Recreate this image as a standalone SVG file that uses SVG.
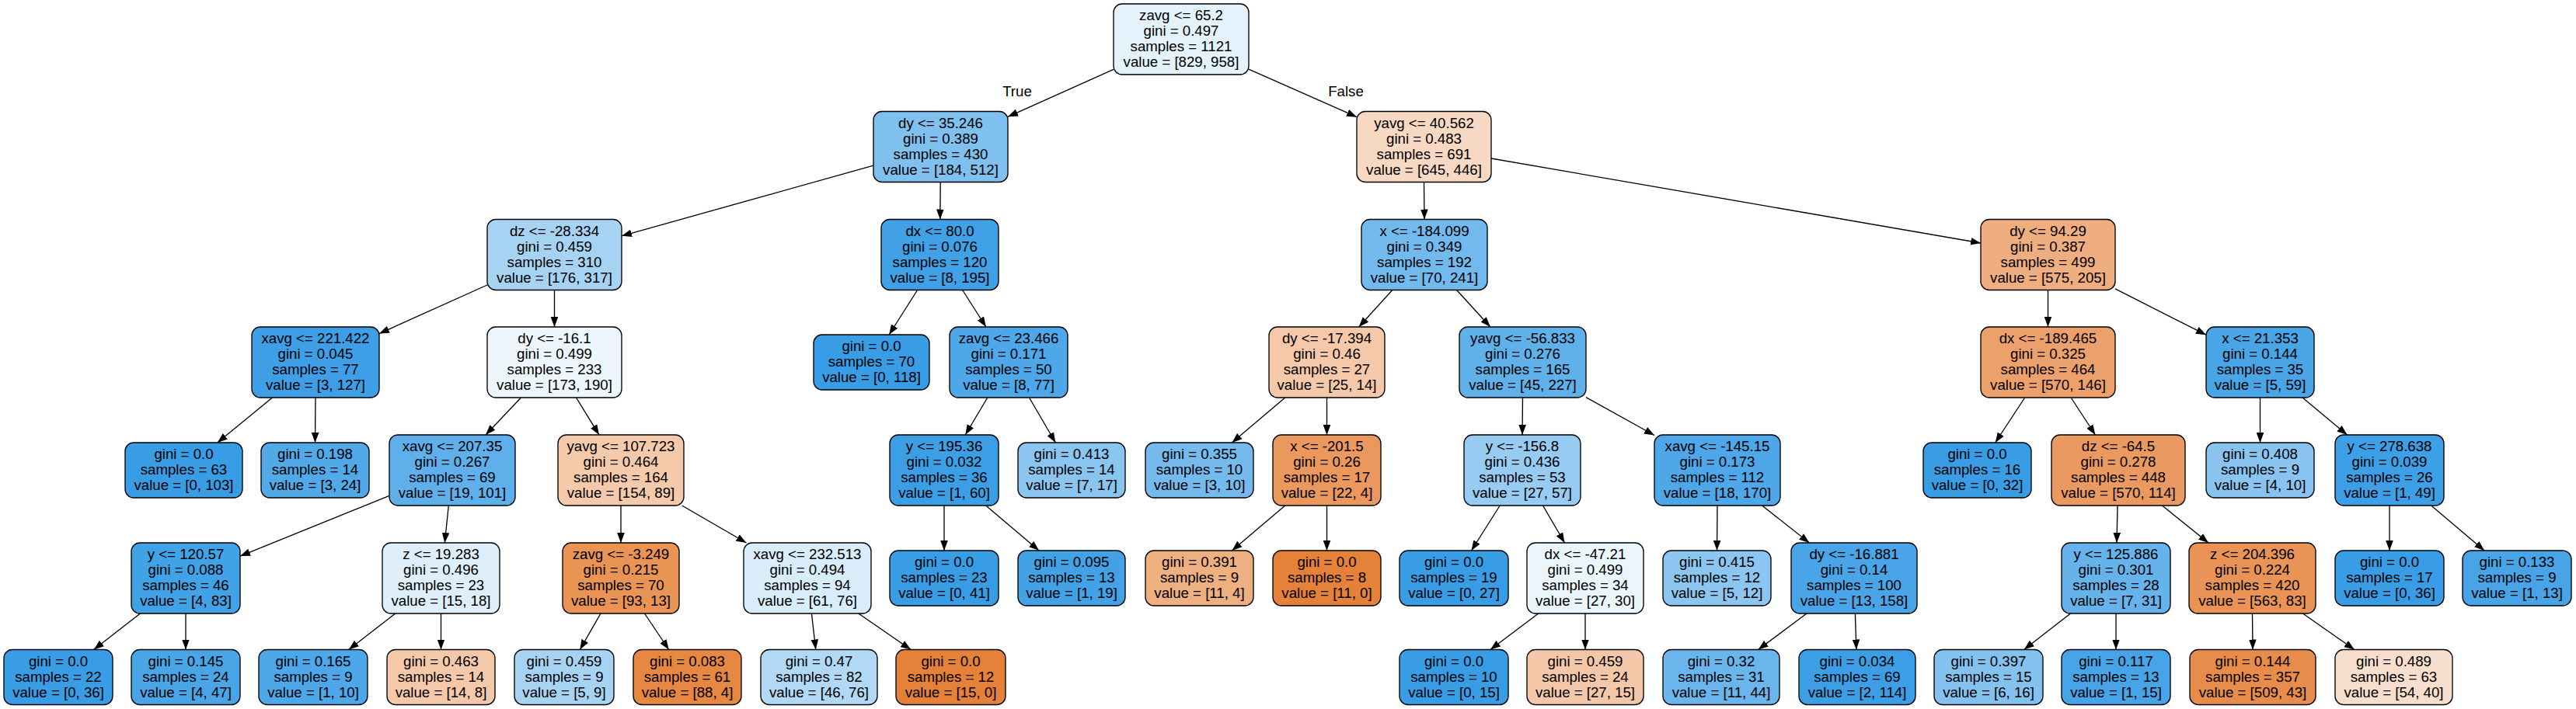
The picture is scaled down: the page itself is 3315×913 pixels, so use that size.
<svg xmlns="http://www.w3.org/2000/svg" width="3315" height="913" viewBox="0 0 3315 913">
<defs>
<style>
.n rect{stroke:#000;stroke-width:1.33}
text{font-family:"Liberation Sans",Arial,Helvetica,sans-serif;font-size:18.67px;text-anchor:middle;fill:#000}
#edges line{stroke:#000;stroke-width:1.33;fill:none;marker-end:url(#ah)}
</style>
<marker id="ah" markerUnits="userSpaceOnUse" markerWidth="13" markerHeight="10" viewBox="0 0 12.5 9.3" refX="12.5" refY="4.65" orient="auto"><path d="M0,0 L12.5,4.65 L0,9.3 Z" fill="#000"/></marker>
</defs>
<rect width="3315" height="913" fill="#fff"/>
<g id="edges">
<line x1="1433" y1="89.4" x2="1297" y2="150.3"/>
<line x1="1607" y1="89.1" x2="1746" y2="150.7"/>
<line x1="1124" y1="213.2" x2="800" y2="303.8"/>
<line x1="1210.2" y1="234.5" x2="1209.8" y2="282.5"/>
<line x1="627" y1="367" x2="488" y2="429.6"/>
<line x1="713.5" y1="373.5" x2="713.5" y2="421"/>
<line x1="350.5" y1="512" x2="279.8" y2="570"/>
<line x1="406" y1="512" x2="405.5" y2="570"/>
<line x1="670.5" y1="512" x2="625" y2="560"/>
<line x1="741.5" y1="512" x2="771" y2="560"/>
<line x1="501" y1="638.3" x2="309" y2="716.1"/>
<line x1="577.3" y1="651" x2="572.3" y2="699"/>
<line x1="180.5" y1="790" x2="120.7" y2="836.5"/>
<line x1="239" y1="790" x2="239" y2="836.5"/>
<line x1="508.8" y1="790" x2="448.8" y2="836.5"/>
<line x1="567.5" y1="790" x2="567.5" y2="836.5"/>
<line x1="799" y1="651" x2="799" y2="699"/>
<line x1="877.6" y1="651" x2="960.5" y2="699"/>
<line x1="773" y1="790" x2="746.3" y2="836.5"/>
<line x1="829.5" y1="790" x2="860.7" y2="836.5"/>
<line x1="1044.4" y1="790" x2="1049.8" y2="836.5"/>
<line x1="1104.8" y1="790" x2="1172.1" y2="836.5"/>
<line x1="1180.6" y1="373.5" x2="1144.1" y2="431"/>
<line x1="1238.6" y1="373.5" x2="1268.9" y2="421"/>
<line x1="1270.8" y1="512" x2="1242.2" y2="560"/>
<line x1="1324.5" y1="512" x2="1358.3" y2="570"/>
<line x1="1215" y1="651" x2="1215" y2="709"/>
<line x1="1268.7" y1="651" x2="1337.1" y2="709"/>
<line x1="1832.5" y1="234.5" x2="1833" y2="282.5"/>
<line x1="1919" y1="204" x2="2549" y2="313"/>
<line x1="1791.8" y1="373.5" x2="1748.7" y2="421"/>
<line x1="1874.6" y1="373.5" x2="1917.9" y2="421"/>
<line x1="1653.8" y1="512" x2="1585.4" y2="570"/>
<line x1="1707.5" y1="512" x2="1707.5" y2="560"/>
<line x1="1653.8" y1="651" x2="1585.4" y2="709"/>
<line x1="1707.5" y1="651" x2="1707.5" y2="709"/>
<line x1="1959.5" y1="512" x2="1959" y2="560"/>
<line x1="2041" y1="511.7" x2="2129" y2="560.5"/>
<line x1="1930.2" y1="651" x2="1893.5" y2="709"/>
<line x1="1985.5" y1="651" x2="2013.5" y2="699"/>
<line x1="1979.7" y1="790" x2="1918" y2="836.5"/>
<line x1="2040" y1="790" x2="2040" y2="836.5"/>
<line x1="2210" y1="651" x2="2209.5" y2="709"/>
<line x1="2267.6" y1="651" x2="2328.4" y2="699"/>
<line x1="2325" y1="790" x2="2262.6" y2="836.5"/>
<line x1="2387.4" y1="790" x2="2388.9" y2="836.5"/>
<line x1="2635.5" y1="373.5" x2="2635.5" y2="421"/>
<line x1="2722" y1="371.9" x2="2839" y2="431.2"/>
<line x1="2605.7" y1="512" x2="2567.7" y2="570"/>
<line x1="2665.1" y1="512" x2="2696.4" y2="560"/>
<line x1="2725" y1="651" x2="2724" y2="699"/>
<line x1="2782.5" y1="651" x2="2842" y2="699"/>
<line x1="2664.5" y1="790" x2="2604.7" y2="836.5"/>
<line x1="2723" y1="790" x2="2723" y2="836.5"/>
<line x1="2898.5" y1="790" x2="2899" y2="836.5"/>
<line x1="2963.5" y1="790" x2="3029.8" y2="836.5"/>
<line x1="2908.5" y1="512" x2="2908.5" y2="570"/>
<line x1="2963" y1="512" x2="3020.5" y2="560"/>
<line x1="3075" y1="651" x2="3075" y2="709"/>
<line x1="3128.7" y1="651" x2="3197.1" y2="709"/>
<text x="1309" y="124">True</text>
<text x="1732" y="124">False</text>
</g>
<g id="n0" class="n"><rect x="1433" y="5" width="174" height="91" rx="11" fill="#e4f2fb"/><text x="1520" y="26"><tspan x="1520">zavg &lt;= 65.2</tspan><tspan x="1520" dy="20">gini = 0.497</tspan><tspan x="1520" dy="20">samples = 1121</tspan><tspan x="1520" dy="20">value = [829, 958]</tspan></text></g>
<g id="n1" class="n"><rect x="1124" y="143.5" width="173" height="91" rx="11" fill="#80c0ee"/><text x="1210.5" y="164.5"><tspan x="1210.5">dy &lt;= 35.246</tspan><tspan x="1210.5" dy="20">gini = 0.389</tspan><tspan x="1210.5" dy="20">samples = 430</tspan><tspan x="1210.5" dy="20">value = [184, 512]</tspan></text></g>
<g id="n29" class="n"><rect x="1746" y="143.5" width="173" height="91" rx="11" fill="#f7d8c2"/><text x="1832.5" y="164.5"><tspan x="1832.5">yavg &lt;= 40.562</tspan><tspan x="1832.5" dy="20">gini = 0.483</tspan><tspan x="1832.5" dy="20">samples = 691</tspan><tspan x="1832.5" dy="20">value = [645, 446]</tspan></text></g>
<g id="n2" class="n"><rect x="627" y="282.5" width="173" height="91" rx="11" fill="#a7d3f3"/><text x="713.5" y="303.5"><tspan x="713.5">dz &lt;= -28.334</tspan><tspan x="713.5" dy="20">gini = 0.459</tspan><tspan x="713.5" dy="20">samples = 310</tspan><tspan x="713.5" dy="20">value = [176, 317]</tspan></text></g>
<g id="n22" class="n"><rect x="1134" y="282.5" width="151" height="91" rx="11" fill="#41a1e6"/><text x="1209.5" y="303.5"><tspan x="1209.5">dx &lt;= 80.0</tspan><tspan x="1209.5" dy="20">gini = 0.076</tspan><tspan x="1209.5" dy="20">samples = 120</tspan><tspan x="1209.5" dy="20">value = [8, 195]</tspan></text></g>
<g id="n30" class="n"><rect x="1752" y="282.5" width="162" height="91" rx="11" fill="#72b9ed"/><text x="1833" y="303.5"><tspan x="1833">x &lt;= -184.099</tspan><tspan x="1833" dy="20">gini = 0.349</tspan><tspan x="1833" dy="20">samples = 192</tspan><tspan x="1833" dy="20">value = [70, 241]</tspan></text></g>
<g id="n47" class="n"><rect x="2549" y="282.5" width="173" height="91" rx="11" fill="#eeae80"/><text x="2635.5" y="303.5"><tspan x="2635.5">dy &lt;= 94.29</tspan><tspan x="2635.5" dy="20">gini = 0.387</tspan><tspan x="2635.5" dy="20">samples = 499</tspan><tspan x="2635.5" dy="20">value = [575, 205]</tspan></text></g>
<g id="n3" class="n"><rect x="324" y="421" width="164" height="91" rx="11" fill="#3e9fe6"/><text x="406" y="442"><tspan x="406">xavg &lt;= 221.422</tspan><tspan x="406" dy="20">gini = 0.045</tspan><tspan x="406" dy="20">samples = 77</tspan><tspan x="406" dy="20">value = [3, 127]</tspan></text></g>
<g id="n7" class="n"><rect x="627" y="421" width="173" height="91" rx="11" fill="#edf6fd"/><text x="713.5" y="442"><tspan x="713.5">dy &lt;= -16.1</tspan><tspan x="713.5" dy="20">gini = 0.499</tspan><tspan x="713.5" dy="20">samples = 233</tspan><tspan x="713.5" dy="20">value = [173, 190]</tspan></text></g>
<g id="n23" class="n"><rect x="1047" y="431" width="149" height="71" rx="11" fill="#399de5"/><text x="1121.5" y="452"><tspan x="1121.5">gini = 0.0</tspan><tspan x="1121.5" dy="20">samples = 70</tspan><tspan x="1121.5" dy="20">value = [0, 118]</tspan></text></g>
<g id="n24" class="n"><rect x="1222" y="421" width="152" height="91" rx="11" fill="#4ea7e8"/><text x="1298" y="442"><tspan x="1298">zavg &lt;= 23.466</tspan><tspan x="1298" dy="20">gini = 0.171</tspan><tspan x="1298" dy="20">samples = 50</tspan><tspan x="1298" dy="20">value = [8, 77]</tspan></text></g>
<g id="n31" class="n"><rect x="1633" y="421" width="149" height="91" rx="11" fill="#f4c8a8"/><text x="1707.5" y="442"><tspan x="1707.5">dy &lt;= -17.394</tspan><tspan x="1707.5" dy="20">gini = 0.46</tspan><tspan x="1707.5" dy="20">samples = 27</tspan><tspan x="1707.5" dy="20">value = [25, 14]</tspan></text></g>
<g id="n36" class="n"><rect x="1878" y="421" width="163" height="91" rx="11" fill="#60b0ea"/><text x="1959.5" y="442"><tspan x="1959.5">yavg &lt;= -56.833</tspan><tspan x="1959.5" dy="20">gini = 0.276</tspan><tspan x="1959.5" dy="20">samples = 165</tspan><tspan x="1959.5" dy="20">value = [45, 227]</tspan></text></g>
<g id="n48" class="n"><rect x="2549" y="421" width="173" height="91" rx="11" fill="#eca16c"/><text x="2635.5" y="442"><tspan x="2635.5">dx &lt;= -189.465</tspan><tspan x="2635.5" dy="20">gini = 0.325</tspan><tspan x="2635.5" dy="20">samples = 464</tspan><tspan x="2635.5" dy="20">value = [570, 146]</tspan></text></g>
<g id="n57" class="n"><rect x="2839" y="421" width="139" height="91" rx="11" fill="#4aa5e7"/><text x="2908.5" y="442"><tspan x="2908.5">x &lt;= 21.353</tspan><tspan x="2908.5" dy="20">gini = 0.144</tspan><tspan x="2908.5" dy="20">samples = 35</tspan><tspan x="2908.5" dy="20">value = [5, 59]</tspan></text></g>
<g id="n5" class="n"><rect x="161" y="570" width="151" height="71" rx="11" fill="#399de5"/><text x="236.5" y="591"><tspan x="236.5">gini = 0.0</tspan><tspan x="236.5" dy="20">samples = 63</tspan><tspan x="236.5" dy="20">value = [0, 103]</tspan></text></g>
<g id="n6" class="n"><rect x="336" y="570" width="139" height="71" rx="11" fill="#52a9e8"/><text x="405.5" y="591"><tspan x="405.5">gini = 0.198</tspan><tspan x="405.5" dy="20">samples = 14</tspan><tspan x="405.5" dy="20">value = [3, 24]</tspan></text></g>
<g id="n8" class="n"><rect x="501" y="560" width="162" height="91" rx="11" fill="#5eafea"/><text x="582" y="581"><tspan x="582">xavg &lt;= 207.35</tspan><tspan x="582" dy="20">gini = 0.267</tspan><tspan x="582" dy="20">samples = 69</tspan><tspan x="582" dy="20">value = [19, 101]</tspan></text></g>
<g id="n15" class="n"><rect x="718" y="560" width="162" height="91" rx="11" fill="#f4caab"/><text x="799" y="581"><tspan x="799">yavg &lt;= 107.723</tspan><tspan x="799" dy="20">gini = 0.464</tspan><tspan x="799" dy="20">samples = 164</tspan><tspan x="799" dy="20">value = [154, 89]</tspan></text></g>
<g id="n25" class="n"><rect x="1145" y="560" width="140" height="91" rx="11" fill="#3c9fe5"/><text x="1215" y="581"><tspan x="1215">y &lt;= 195.36</tspan><tspan x="1215" dy="20">gini = 0.032</tspan><tspan x="1215" dy="20">samples = 36</tspan><tspan x="1215" dy="20">value = [1, 60]</tspan></text></g>
<g id="n28" class="n"><rect x="1310" y="570" width="138" height="71" rx="11" fill="#8ac5f0"/><text x="1379" y="591"><tspan x="1379">gini = 0.413</tspan><tspan x="1379" dy="20">samples = 14</tspan><tspan x="1379" dy="20">value = [7, 17]</tspan></text></g>
<g id="n32" class="n"><rect x="1474" y="570" width="139" height="71" rx="11" fill="#74baed"/><text x="1543.5" y="591"><tspan x="1543.5">gini = 0.355</tspan><tspan x="1543.5" dy="20">samples = 10</tspan><tspan x="1543.5" dy="20">value = [3, 10]</tspan></text></g>
<g id="n33" class="n"><rect x="1638" y="560" width="139" height="91" rx="11" fill="#ea985d"/><text x="1707.5" y="581"><tspan x="1707.5">x &lt;= -201.5</tspan><tspan x="1707.5" dy="20">gini = 0.26</tspan><tspan x="1707.5" dy="20">samples = 17</tspan><tspan x="1707.5" dy="20">value = [22, 4]</tspan></text></g>
<g id="n37" class="n"><rect x="1884" y="560" width="150" height="91" rx="11" fill="#97cbf1"/><text x="1959" y="581"><tspan x="1959">y &lt;= -156.8</tspan><tspan x="1959" dy="20">gini = 0.436</tspan><tspan x="1959" dy="20">samples = 53</tspan><tspan x="1959" dy="20">value = [27, 57]</tspan></text></g>
<g id="n42" class="n"><rect x="2129" y="560" width="162" height="91" rx="11" fill="#4ea7e8"/><text x="2210" y="581"><tspan x="2210">xavg &lt;= -145.15</tspan><tspan x="2210" dy="20">gini = 0.173</tspan><tspan x="2210" dy="20">samples = 112</tspan><tspan x="2210" dy="20">value = [18, 170]</tspan></text></g>
<g id="n49" class="n"><rect x="2475" y="570" width="139" height="71" rx="11" fill="#399de5"/><text x="2544.5" y="591"><tspan x="2544.5">gini = 0.0</tspan><tspan x="2544.5" dy="20">samples = 16</tspan><tspan x="2544.5" dy="20">value = [0, 32]</tspan></text></g>
<g id="n50" class="n"><rect x="2640" y="560" width="172" height="91" rx="11" fill="#ea9a61"/><text x="2726" y="581"><tspan x="2726">dz &lt;= -64.5</tspan><tspan x="2726" dy="20">gini = 0.278</tspan><tspan x="2726" dy="20">samples = 448</tspan><tspan x="2726" dy="20">value = [570, 114]</tspan></text></g>
<g id="n58" class="n"><rect x="2839" y="570" width="139" height="71" rx="11" fill="#88c4ef"/><text x="2908.5" y="591"><tspan x="2908.5">gini = 0.408</tspan><tspan x="2908.5" dy="20">samples = 9</tspan><tspan x="2908.5" dy="20">value = [4, 10]</tspan></text></g>
<g id="n59" class="n"><rect x="3005" y="560" width="140" height="91" rx="11" fill="#3d9fe5"/><text x="3075" y="581"><tspan x="3075">y &lt;= 278.638</tspan><tspan x="3075" dy="20">gini = 0.039</tspan><tspan x="3075" dy="20">samples = 26</tspan><tspan x="3075" dy="20">value = [1, 49]</tspan></text></g>
<g id="n9" class="n"><rect x="169" y="699" width="140" height="91" rx="11" fill="#42a2e6"/><text x="239" y="720"><tspan x="239">y &lt;= 120.57</tspan><tspan x="239" dy="20">gini = 0.088</tspan><tspan x="239" dy="20">samples = 46</tspan><tspan x="239" dy="20">value = [4, 83]</tspan></text></g>
<g id="n12" class="n"><rect x="492" y="699" width="151" height="91" rx="11" fill="#deeffb"/><text x="567.5" y="720"><tspan x="567.5">z &lt;= 19.283</tspan><tspan x="567.5" dy="20">gini = 0.496</tspan><tspan x="567.5" dy="20">samples = 23</tspan><tspan x="567.5" dy="20">value = [15, 18]</tspan></text></g>
<g id="n16" class="n"><rect x="724" y="699" width="150" height="91" rx="11" fill="#e99355"/><text x="799" y="720"><tspan x="799">zavg &lt;= -3.249</tspan><tspan x="799" dy="20">gini = 0.215</tspan><tspan x="799" dy="20">samples = 70</tspan><tspan x="799" dy="20">value = [93, 13]</tspan></text></g>
<g id="n19" class="n"><rect x="957" y="699" width="164" height="91" rx="11" fill="#d8ecfa"/><text x="1039" y="720"><tspan x="1039">xavg &lt;= 232.513</tspan><tspan x="1039" dy="20">gini = 0.494</tspan><tspan x="1039" dy="20">samples = 94</tspan><tspan x="1039" dy="20">value = [61, 76]</tspan></text></g>
<g id="n26" class="n"><rect x="1145" y="709" width="140" height="71" rx="11" fill="#399de5"/><text x="1215" y="730"><tspan x="1215">gini = 0.0</tspan><tspan x="1215" dy="20">samples = 23</tspan><tspan x="1215" dy="20">value = [0, 41]</tspan></text></g>
<g id="n27" class="n"><rect x="1310" y="709" width="138" height="71" rx="11" fill="#43a2e6"/><text x="1379" y="730"><tspan x="1379">gini = 0.095</tspan><tspan x="1379" dy="20">samples = 13</tspan><tspan x="1379" dy="20">value = [1, 19]</tspan></text></g>
<g id="n34" class="n"><rect x="1474" y="709" width="139" height="71" rx="11" fill="#eeaf81"/><text x="1543.5" y="730"><tspan x="1543.5">gini = 0.391</tspan><tspan x="1543.5" dy="20">samples = 9</tspan><tspan x="1543.5" dy="20">value = [11, 4]</tspan></text></g>
<g id="n35" class="n"><rect x="1638" y="709" width="139" height="71" rx="11" fill="#e58139"/><text x="1707.5" y="730"><tspan x="1707.5">gini = 0.0</tspan><tspan x="1707.5" dy="20">samples = 8</tspan><tspan x="1707.5" dy="20">value = [11, 0]</tspan></text></g>
<g id="n38" class="n"><rect x="1801" y="709" width="140" height="71" rx="11" fill="#399de5"/><text x="1871" y="730"><tspan x="1871">gini = 0.0</tspan><tspan x="1871" dy="20">samples = 19</tspan><tspan x="1871" dy="20">value = [0, 27]</tspan></text></g>
<g id="n39" class="n"><rect x="1965" y="699" width="150" height="91" rx="11" fill="#ebf5fc"/><text x="2040" y="720"><tspan x="2040">dx &lt;= -47.21</tspan><tspan x="2040" dy="20">gini = 0.499</tspan><tspan x="2040" dy="20">samples = 34</tspan><tspan x="2040" dy="20">value = [27, 30]</tspan></text></g>
<g id="n43" class="n"><rect x="2140" y="709" width="139" height="71" rx="11" fill="#8cc6f0"/><text x="2209.5" y="730"><tspan x="2209.5">gini = 0.415</tspan><tspan x="2209.5" dy="20">samples = 12</tspan><tspan x="2209.5" dy="20">value = [5, 12]</tspan></text></g>
<g id="n44" class="n"><rect x="2305" y="699" width="162" height="91" rx="11" fill="#49a5e7"/><text x="2386" y="720"><tspan x="2386">dy &lt;= -16.881</tspan><tspan x="2386" dy="20">gini = 0.14</tspan><tspan x="2386" dy="20">samples = 100</tspan><tspan x="2386" dy="20">value = [13, 158]</tspan></text></g>
<g id="n51" class="n"><rect x="2653" y="699" width="140" height="91" rx="11" fill="#66b3eb"/><text x="2723" y="720"><tspan x="2723">y &lt;= 125.886</tspan><tspan x="2723" dy="20">gini = 0.301</tspan><tspan x="2723" dy="20">samples = 28</tspan><tspan x="2723" dy="20">value = [7, 31]</tspan></text></g>
<g id="n54" class="n"><rect x="2817" y="699" width="163" height="91" rx="11" fill="#e99456"/><text x="2898.5" y="720"><tspan x="2898.5">z &lt;= 204.396</tspan><tspan x="2898.5" dy="20">gini = 0.224</tspan><tspan x="2898.5" dy="20">samples = 420</tspan><tspan x="2898.5" dy="20">value = [563, 83]</tspan></text></g>
<g id="n60" class="n"><rect x="3005" y="709" width="140" height="71" rx="11" fill="#399de5"/><text x="3075" y="730"><tspan x="3075">gini = 0.0</tspan><tspan x="3075" dy="20">samples = 17</tspan><tspan x="3075" dy="20">value = [0, 36]</tspan></text></g>
<g id="n61" class="n"><rect x="3169" y="709" width="140" height="71" rx="11" fill="#48a4e7"/><text x="3239" y="730"><tspan x="3239">gini = 0.133</tspan><tspan x="3239" dy="20">samples = 9</tspan><tspan x="3239" dy="20">value = [1, 13]</tspan></text></g>
<g id="n10" class="n"><rect x="5" y="836.5" width="140" height="71" rx="11" fill="#399de5"/><text x="75" y="857.5"><tspan x="75">gini = 0.0</tspan><tspan x="75" dy="20">samples = 22</tspan><tspan x="75" dy="20">value = [0, 36]</tspan></text></g>
<g id="n11" class="n"><rect x="169" y="836.5" width="140" height="71" rx="11" fill="#4aa5e7"/><text x="239" y="857.5"><tspan x="239">gini = 0.145</tspan><tspan x="239" dy="20">samples = 24</tspan><tspan x="239" dy="20">value = [4, 47]</tspan></text></g>
<g id="n13" class="n"><rect x="333" y="836.5" width="140" height="71" rx="11" fill="#4da7e8"/><text x="403" y="857.5"><tspan x="403">gini = 0.165</tspan><tspan x="403" dy="20">samples = 9</tspan><tspan x="403" dy="20">value = [1, 10]</tspan></text></g>
<g id="n14" class="n"><rect x="498" y="836.5" width="139" height="71" rx="11" fill="#f4c9aa"/><text x="567.5" y="857.5"><tspan x="567.5">gini = 0.463</tspan><tspan x="567.5" dy="20">samples = 14</tspan><tspan x="567.5" dy="20">value = [14, 8]</tspan></text></g>
<g id="n17" class="n"><rect x="662" y="836.5" width="128" height="71" rx="11" fill="#a7d3f3"/><text x="726" y="857.5"><tspan x="726">gini = 0.459</tspan><tspan x="726" dy="20">samples = 9</tspan><tspan x="726" dy="20">value = [5, 9]</tspan></text></g>
<g id="n18" class="n"><rect x="815" y="836.5" width="139" height="71" rx="11" fill="#e68742"/><text x="884.5" y="857.5"><tspan x="884.5">gini = 0.083</tspan><tspan x="884.5" dy="20">samples = 61</tspan><tspan x="884.5" dy="20">value = [88, 4]</tspan></text></g>
<g id="n20" class="n"><rect x="979" y="836.5" width="150" height="71" rx="11" fill="#b1d8f5"/><text x="1054" y="857.5"><tspan x="1054">gini = 0.47</tspan><tspan x="1054" dy="20">samples = 82</tspan><tspan x="1054" dy="20">value = [46, 76]</tspan></text></g>
<g id="n21" class="n"><rect x="1153" y="836.5" width="141" height="71" rx="11" fill="#e58139"/><text x="1223.5" y="857.5"><tspan x="1223.5">gini = 0.0</tspan><tspan x="1223.5" dy="20">samples = 12</tspan><tspan x="1223.5" dy="20">value = [15, 0]</tspan></text></g>
<g id="n40" class="n"><rect x="1801" y="836.5" width="140" height="71" rx="11" fill="#399de5"/><text x="1871" y="857.5"><tspan x="1871">gini = 0.0</tspan><tspan x="1871" dy="20">samples = 10</tspan><tspan x="1871" dy="20">value = [0, 15]</tspan></text></g>
<g id="n41" class="n"><rect x="1965" y="836.5" width="150" height="71" rx="11" fill="#f3c7a7"/><text x="2040" y="857.5"><tspan x="2040">gini = 0.459</tspan><tspan x="2040" dy="20">samples = 24</tspan><tspan x="2040" dy="20">value = [27, 15]</tspan></text></g>
<g id="n45" class="n"><rect x="2140" y="836.5" width="150" height="71" rx="11" fill="#6ab6ec"/><text x="2215" y="857.5"><tspan x="2215">gini = 0.32</tspan><tspan x="2215" dy="20">samples = 31</tspan><tspan x="2215" dy="20">value = [11, 44]</tspan></text></g>
<g id="n46" class="n"><rect x="2315" y="836.5" width="150" height="71" rx="11" fill="#3c9fe6"/><text x="2390" y="857.5"><tspan x="2390">gini = 0.034</tspan><tspan x="2390" dy="20">samples = 69</tspan><tspan x="2390" dy="20">value = [2, 114]</tspan></text></g>
<g id="n52" class="n"><rect x="2489" y="836.5" width="140" height="71" rx="11" fill="#83c2ef"/><text x="2559" y="857.5"><tspan x="2559">gini = 0.397</tspan><tspan x="2559" dy="20">samples = 15</tspan><tspan x="2559" dy="20">value = [6, 16]</tspan></text></g>
<g id="n53" class="n"><rect x="2653" y="836.5" width="140" height="71" rx="11" fill="#46a4e7"/><text x="2723" y="857.5"><tspan x="2723">gini = 0.117</tspan><tspan x="2723" dy="20">samples = 13</tspan><tspan x="2723" dy="20">value = [1, 15]</tspan></text></g>
<g id="n55" class="n"><rect x="2818" y="836.5" width="162" height="71" rx="11" fill="#e78c4a"/><text x="2899" y="857.5"><tspan x="2899">gini = 0.144</tspan><tspan x="2899" dy="20">samples = 357</tspan><tspan x="2899" dy="20">value = [509, 43]</tspan></text></g>
<g id="n56" class="n"><rect x="3005" y="836.5" width="151" height="71" rx="11" fill="#f8decc"/><text x="3080.5" y="857.5"><tspan x="3080.5">gini = 0.489</tspan><tspan x="3080.5" dy="20">samples = 63</tspan><tspan x="3080.5" dy="20">value = [54, 40]</tspan></text></g>
</svg>
